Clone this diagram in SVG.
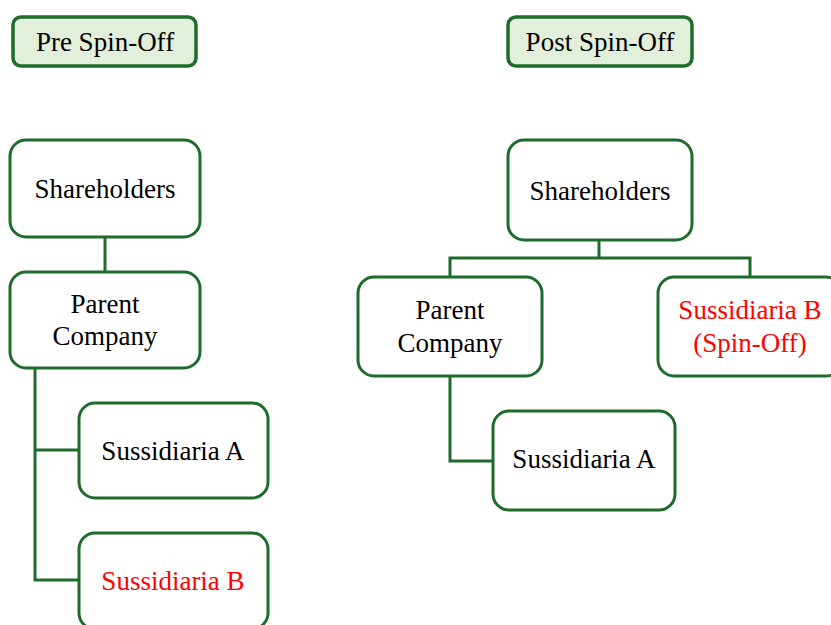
<svg xmlns="http://www.w3.org/2000/svg" width="831" height="625" viewBox="0 0 831 625">
  <style>
    .box { fill: #ffffff; stroke: #1f6b2c; stroke-width: 3; }
    .hdr { fill: #e2efda; stroke: #1f6b2c; stroke-width: 3.5; }
    .lbl { font-family: "Liberation Serif", "Times New Roman", serif; font-size: 27px; fill: #000000; text-anchor: middle; }
    .red { fill: #ff0000; }
    .wire { fill: none; stroke: #1f6b2c; stroke-width: 3; }
  </style>
  <rect width="831" height="625" fill="#ffffff"/>

  <!-- connectors -->
  <g id="connectors">
    <!-- pre spin-off -->
    <path class="wire" d="M105 237 V272"/>
    <path class="wire" d="M35 368 V580 H79"/>
    <path class="wire" d="M35 450 H79"/>
    <!-- post spin-off -->
    <path class="wire" d="M599 240 V258"/>
    <path class="wire" d="M450 277 V258 H750 V277"/>
    <path class="wire" d="M450 376 V461 H493"/>
  </g>

  <!-- headers -->
  <g id="hdr-pre">
    <rect class="hdr" x="13" y="17" width="183" height="49" rx="8"/>
    <text class="lbl" x="105" y="51">Pre Spin-Off</text>
  </g>
  <g id="hdr-post">
    <rect class="hdr" x="508" y="17" width="184" height="49" rx="8"/>
    <text class="lbl" x="600" y="51">Post Spin-Off</text>
  </g>

  <!-- pre spin-off structure -->
  <g id="pre-shareholders">
    <rect class="box" x="10" y="140" width="190" height="97" rx="16"/>
    <text class="lbl" x="105" y="198">Shareholders</text>
  </g>
  <g id="pre-parent">
    <rect class="box" x="10" y="272" width="190" height="96" rx="16"/>
    <text class="lbl" x="105" y="313">Parent</text>
    <text class="lbl" x="105" y="345">Company</text>
  </g>
  <g id="pre-sub-a">
    <rect class="box" x="79" y="403" width="189" height="95" rx="16"/>
    <text class="lbl" x="173" y="460">Sussidiaria A</text>
  </g>
  <g id="pre-sub-b">
    <rect class="box" x="79" y="533" width="189" height="96" rx="16"/>
    <text class="lbl red" x="173" y="590">Sussidiaria B</text>
  </g>

  <!-- post spin-off structure -->
  <g id="post-shareholders">
    <rect class="box" x="508" y="140" width="184" height="100" rx="16"/>
    <text class="lbl" x="600" y="200">Shareholders</text>
  </g>
  <g id="post-parent">
    <rect class="box" x="358" y="277" width="184" height="99" rx="16"/>
    <text class="lbl" x="450" y="319">Parent</text>
    <text class="lbl" x="450" y="352">Company</text>
  </g>
  <g id="post-sub-b">
    <rect class="box" x="658" y="277" width="184" height="99" rx="16"/>
    <text class="lbl red" x="750" y="319">Sussidiaria B</text>
    <text class="lbl red" x="750" y="352">(Spin-Off)</text>
  </g>
  <g id="post-sub-a">
    <rect class="box" x="493" y="411" width="182" height="99" rx="16"/>
    <text class="lbl" x="584" y="468">Sussidiaria A</text>
  </g>
</svg>
